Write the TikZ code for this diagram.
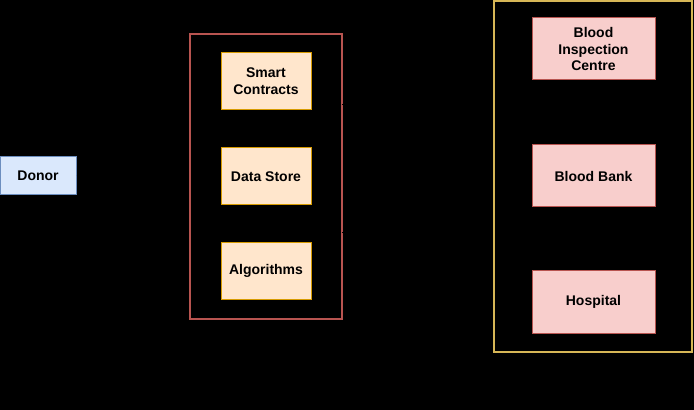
\documentclass[tikz,border=0pt]{standalone}
\usepackage{fontspec}
\setmainfont{Liberation Sans}
\usetikzlibrary{arrows.meta}
\definecolor{bluefill}{HTML}{DAE8FC}
\definecolor{bluedraw}{HTML}{6C8EBF}
\definecolor{orfill}{HTML}{FFE6CC}
\definecolor{ordraw}{HTML}{D79B00}
\definecolor{pkfill}{HTML}{F8CECC}
\definecolor{pkdraw}{HTML}{B85450}
\definecolor{ylwdraw}{HTML}{D6B656}
\tikzset{
  box/.style={draw, line width=0.75pt, minimum width=#1, inner sep=0pt, align=center,
    font=\fontsize{10.5}{12.7}\selectfont\bfseries, text=black},
  donorbox/.style={box=76*0.75pt, fill=bluefill, draw=bluedraw, minimum height=38*0.75pt},
  orbox/.style={box=90*0.75pt, fill=orfill, draw=ordraw, minimum height=57*0.75pt},
  pkbox/.style={box=123*0.75pt, fill=pkfill, draw=pkdraw, minimum height=62*0.75pt},
  container/.style={draw, line width=1.2pt, inner sep=0pt},
  conn/.style={draw=black, line width=0.75pt, -{Latex[length=6pt,width=5pt]}}
}
\begin{document}
\begin{tikzpicture}[x=0.75pt,y=-0.75pt]
\fill[black] (0,0) rectangle (694,410);
\useasboundingbox (0,0) rectangle (694,410);
% containers
\node[container, draw=pkdraw, minimum width=152*0.75pt, minimum height=285*0.75pt] (platform) at (266,176.5) {};
\node[container, draw=ylwdraw, minimum width=198*0.75pt, minimum height=351*0.75pt] (users) at (593,176.5) {};
% nodes
\node[donorbox] (donor) at (38,176) {Donor};
\node[orbox] (smart) at (266,81.5) {Smart\\Contracts};
\node[orbox] (store) at (266,176.5) {Data Store};
\node[orbox] (algo) at (266,271) {Algorithms};
\node[pkbox] (bic) at (593.5,49) {Blood\\Inspection\\Centre};
\node[pkbox] (bank) at (593.5,176) {Blood Bank};
\node[pkbox] (hosp) at (593.5,302) {Hospital};
% connectors (black on black, as in the reference)
\draw[conn] (donor.east) -- (donor.east -| platform.west);
\coordinate (p1) at (342,105);
\coordinate (p2) at (342,233);
\draw[conn] (p1) -- (p1 -| users.west);
\draw[conn] (p2) -- (p2 -| users.west);
\end{tikzpicture}
\end{document}
